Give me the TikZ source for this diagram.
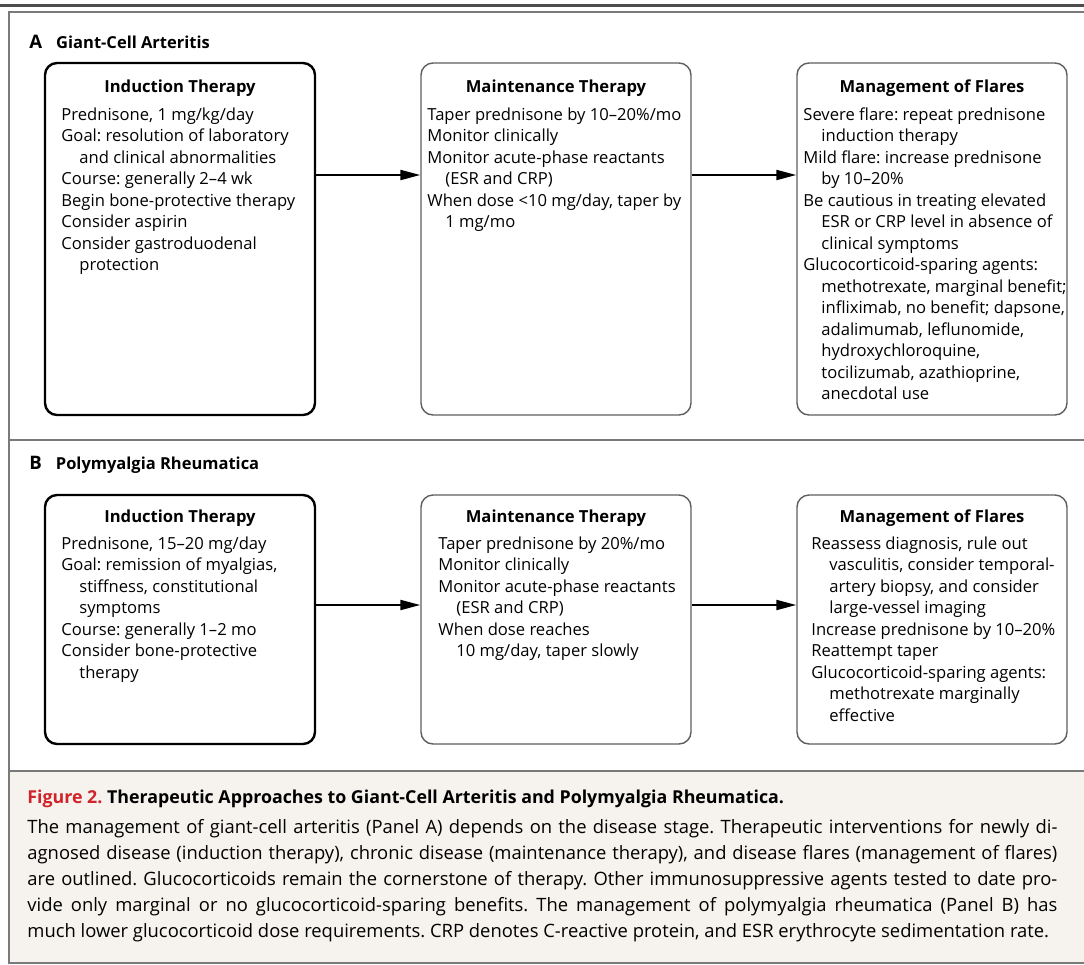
\documentclass[tikz,border=0pt]{standalone}
\usepackage{fontspec}
\setmainfont{Open Sans}
\usetikzlibrary{arrows.meta,positioning,calc}
\definecolor{framegray}{HTML}{7A7A7A}
\definecolor{boxgray}{HTML}{5E5E5E}
\definecolor{capfill}{HTML}{F6F3EE}
\definecolor{figred}{HTML}{D1232A}
\newcommand{\cont}{\hspace*{9pt}}
\newcommand{\topstrut}{\rule{0pt}{9pt}}
\frenchspacing

\begin{document}
\begin{tikzpicture}[
    x=0.5pt, y=-0.5pt,
    font=\fontsize{8.3}{10.75}\selectfont,
    firstbox/.style={draw=black, line width=1.2pt, rounded corners=6pt, minimum width=135pt, inner sep=0pt},
    box/.style={draw=boxgray, line width=0.7pt, rounded corners=6pt, minimum width=135pt, inner sep=0pt},
    ttl/.style={anchor=base, inner sep=0pt, font=\fontsize{8.3}{10}\selectfont\bfseries},
    body/.style={anchor=north west, align=left, inner sep=0pt},
    panel/.style={anchor=base west, inner sep=0pt, font=\fontsize{8.25}{10}\selectfont\bfseries},
    arrow/.style={-{Triangle[length=10pt, width=5pt]}, line width=1pt}
  ]
    \useasboundingbox (0,0) rectangle (1084,965);
    \fill[capfill] (9,771) rectangle (1090,963);
    \draw[framegray, line width=1pt] (1090,12) -- (9,12) -- (9,963) -- (1090,963);
    \draw[framegray, line width=1pt] (9,440) -- (1090,440);
    \draw[framegray, line width=1pt] (9,771) -- (1090,771);
    \draw[black!70, line width=1.5pt] (0,5) -- (1084,5);

    \node[panel] (panA) at (29,48) {{\fontsize{9.3}{10}\selectfont A}\hspace{7pt}Giant-Cell Arteritis};
    \node[panel] (panB) at (29,469) {{\fontsize{9.3}{10}\selectfont B}\hspace{7pt}Polymyalgia Rheumatica};

    \node[firstbox, minimum height=176pt] (indA) at (180,239) {};
    \node[box, minimum height=176pt] (maintA) at (556,239) {};
    \node[box, minimum height=176pt] (flareA) at (932,239) {};

    \node[ttl] (indAttl) at (indA.north |- 0,92) {Induction Therapy};
    \node[ttl] (maintAttl) at (maintA.north |- 0,92) {Maintenance Therapy};
    \node[ttl] (flareAttl) at (flareA.north |- 0,92) {Management of Flares};

    \node[body] (indAtxt) at (61,102) {\topstrut Prednisone, 1 mg/kg/day\\
      Goal: resolution of laboratory\\
      \cont and clinical abnormalities\\
      Course: generally 2–4 wk\\
      Begin bone-protective therapy\\
      Consider aspirin\\
      Consider gastroduodenal\\
      \cont protection};
    \node[body] (maintAtxt) at (427,102) {\topstrut Taper prednisone by 10–20\%/mo\\
      Monitor clinically\\
      Monitor acute-phase reactants\\
      \cont (ESR and CRP)\\
      When dose <10 mg/day, taper by\\
      \cont 1 mg/mo};
    \node[body] (flareAtxt) at (803,102) {\topstrut Severe flare: repeat prednisone\\
      \cont induction therapy\\
      Mild flare: increase prednisone\\
      \cont by 10–20\%\\
      Be cautious in treating elevated\\
      \cont ESR or CRP level in absence of\\
      \cont clinical symptoms\\
      Glucocorticoid-sparing agents:\\
      \cont methotrexate, marginal benefit;\\
      \cont infliximab, no benefit; dapsone,\\
      \cont adalimumab, leflunomide,\\
      \cont hydroxychloroquine,\\
      \cont tocilizumab, azathioprine,\\
      \cont anecdotal use};

    \draw[arrow] ([yshift=32pt]indA.east) -- ([yshift=32pt]maintA.west);
    \draw[arrow] ([yshift=32pt]maintA.east) -- ([yshift=32pt]flareA.west);

    \node[firstbox, minimum height=124.5pt] (indB) at (180,619.5) {};
    \node[box, minimum height=124.5pt] (maintB) at (556,619.5) {};
    \node[box, minimum height=124.5pt] (flareB) at (932,619.5) {};

    \node[ttl] (indBttl) at (indB.north |- 0,522) {Induction Therapy};
    \node[ttl] (maintBttl) at (maintB.north |- 0,522) {Maintenance Therapy};
    \node[ttl] (flareBttl) at (flareB.north |- 0,522) {Management of Flares};

    \node[body] (indBtxt) at (61,531) {\topstrut Prednisone, 15–20 mg/day\\
      Goal: remission of myalgias,\\
      \cont stiffness, constitutional\\
      \cont symptoms\\
      Course: generally 1–2 mo\\
      Consider bone-protective\\
      \cont therapy};
    \node[body] (maintBtxt) at (438,531) {\topstrut Taper prednisone by 20\%/mo\\
      Monitor clinically\\
      Monitor acute-phase reactants\\
      \cont (ESR and CRP)\\
      When dose reaches\\
      \cont 10 mg/day, taper slowly};
    \node[body] (flareBtxt) at (811,531) {\topstrut Reassess diagnosis, rule out\\
      \cont vasculitis, consider temporal-\\
      \cont artery biopsy, and consider\\
      \cont large-vessel imaging\\
      Increase prednisone by 10–20\%\\
      Reattempt taper\\
      Glucocorticoid-sparing agents:\\
      \cont methotrexate marginally\\
      \cont effective};

    \draw[arrow] ([yshift=7.25pt]indB.east) -- ([yshift=7.25pt]maintB.west);
    \draw[arrow] ([yshift=7.25pt]maintB.east) -- ([yshift=7.25pt]flareB.west);

    \node[anchor=base west, inner sep=0pt, font=\fontsize{8.9}{13}\selectfont\bfseries] (captitle) at (27,803)
      {\textcolor{figred}{Figure 2.} Therapeutic Approaches to Giant-Cell Arteritis and Polymyalgia Rheumatica.};
    \node[anchor=north west, inner sep=0pt, text width=515pt, align=justify, font=\fontsize{9.2}{13}\selectfont] (captext) at (27,815)
      {\setlength{\baselineskip}{13pt}\hyphenpenalty=10000\topstrut The management of giant-cell arteritis (Panel A) depends on the disease stage. Therapeutic interventions for newly di-\linebreak
      agnosed disease (induction therapy), chronic disease (maintenance therapy), and disease flares (management of flares)\linebreak
      are outlined. Glucocorticoids remain the cornerstone of therapy. Other immunosuppressive agents tested to date pro-\linebreak
      vide only marginal or no glucocorticoid-sparing benefits. The management of polymyalgia rheumatica (Panel B) has\linebreak
      much lower glucocorticoid dose requirements. CRP denotes C-reactive protein, and ESR erythrocyte sedimentation rate.};
  \end{tikzpicture}
\end{document}
